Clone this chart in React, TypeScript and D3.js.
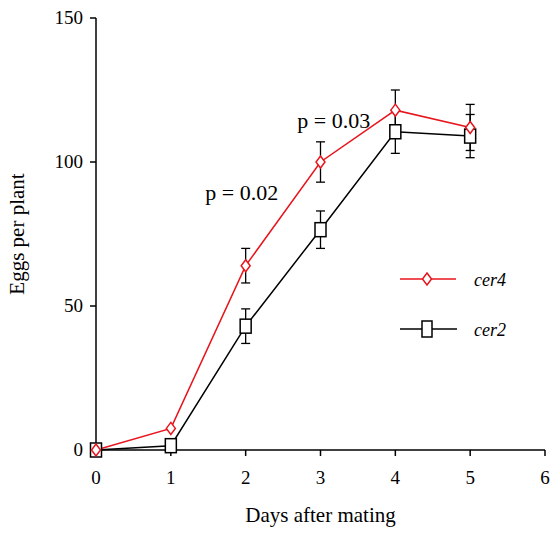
import React from "react";
import * as d3 from "d3";

const days = [0, 1, 2, 3, 4, 5];
const cer4 = [0, 7.5, 64, 100, 118, 112];
const cer4Err = [0, 0, 6, 7, 7, 8];
const cer2 = [0, 1.5, 43, 76.5, 110.5, 109];
const cer2Err = [0, 0, 6, 6.5, 7.5, 7.5];
const xTicks = [0, 1, 2, 3, 4, 5, 6];
const yTicks = [0, 50, 100, 150];
const annotations = [
  { day: 1.46, value: 86.8, text: "p = 0.02" },
  { day: 2.69, value: 111.8, text: "p = 0.03" },
];

const font = "'Liberation Serif', 'Times New Roman', serif";

export default function App() {
  const x = d3.scaleLinear().domain([0, 6]).range([96, 545]);
  const y = d3.scaleLinear().domain([0, 150]).range([450, 18]);
  const line = d3
    .line<number>()
    .x((_, i) => x(days[i]))
    .y((d) => y(d));

  const diamond = (cx: number, cy: number) =>
    `M${cx},${cy - 6}L${cx + 4.5},${cy}L${cx},${cy + 6}L${cx - 4.5},${cy}Z`;

  const errBars = (vals: number[], errs: number[]) =>
    vals.map((v, i) =>
      errs[i] > 0 ? (
        <g key={i} stroke="#000" strokeWidth={1.3}>
          <line x1={x(days[i])} x2={x(days[i])} y1={y(v - errs[i])} y2={y(v + errs[i])} />
          <line x1={x(days[i]) - 4.5} x2={x(days[i]) + 4.5} y1={y(v - errs[i])} y2={y(v - errs[i])} />
          <line x1={x(days[i]) - 4.5} x2={x(days[i]) + 4.5} y1={y(v + errs[i])} y2={y(v + errs[i])} />
        </g>
      ) : null
    );

  return (
    <svg
      width={556}
      height={533}
      style={{ position: "absolute", left: 0, top: 0, background: "#fff" }}
      fontFamily={font}
    >
      {/* axes */}
      <line x1={x(0)} x2={x(0)} y1={y(150)} y2={y(0)} stroke="#000" strokeWidth={1.5} />
      <line x1={x(0)} x2={x(6)} y1={y(0)} y2={y(0)} stroke="#000" strokeWidth={1.5} />
      {yTicks.map((t) => (
        <g key={t}>
          <line x1={x(0) - 6} x2={x(0)} y1={y(t)} y2={y(t)} stroke="#000" strokeWidth={1.5} />
          <text x={x(0) - 13} y={y(t) + 6} textAnchor="end" fontSize={19}>
            {t}
          </text>
        </g>
      ))}
      {xTicks.map((t) => (
        <g key={t}>
          <line x1={x(t)} x2={x(t)} y1={y(0)} y2={y(0) + 6} stroke="#000" strokeWidth={1.5} />
          <text x={x(t)} y={y(0) + 34} textAnchor="middle" fontSize={19}>
            {t}
          </text>
        </g>
      ))}
      <text x={x(3)} y={522} textAnchor="middle" fontSize={21}>
        Days after mating
      </text>
      <text
        transform={`translate(24, ${y(75)}) rotate(-90)`}
        textAnchor="middle"
        fontSize={21}
      >
        Eggs per plant
      </text>

      {/* error bars */}
      {errBars(cer2, cer2Err)}
      {errBars(cer4, cer4Err)}

      {/* lines */}
      <path d={line(cer2) || ""} fill="none" stroke="#000" strokeWidth={1.5} />
      <path d={line(cer4) || ""} fill="none" stroke="#e8141c" strokeWidth={1.5} />

      {/* markers */}
      {cer2.map((v, i) => (
        <rect
          key={i}
          x={x(days[i]) - 5.5}
          y={y(v) - 7}
          width={11}
          height={14}
          fill="#fff"
          stroke="#000"
          strokeWidth={1.5}
        />
      ))}
      {cer4.map((v, i) => (
        <path key={i} d={diamond(x(days[i]), y(v))} fill="#fff" stroke="#e8141c" strokeWidth={1.5} />
      ))}

      {/* annotations */}
      {annotations.map((a) => (
        <text key={a.text} x={x(a.day)} y={y(a.value)} fontSize={22}>
          {a.text}
        </text>
      ))}

      {/* legend */}
      <line x1={400} x2={456} y1={279} y2={279} stroke="#e8141c" strokeWidth={1.5} />
      <path d={diamond(427, 279)} fill="#fff" stroke="#e8141c" strokeWidth={1.5} />
      <text x={474} y={286} fontSize={18} fontStyle="italic">
        cer4
      </text>
      <line x1={400} x2={457} y1={329} y2={329} stroke="#000" strokeWidth={1.5} />
      <rect x={422} y={321} width={10} height={16} fill="#fff" stroke="#000" strokeWidth={1.5} />
      <text x={474} y={336} fontSize={18} fontStyle="italic">
        cer2
      </text>
    </svg>
  );
}
